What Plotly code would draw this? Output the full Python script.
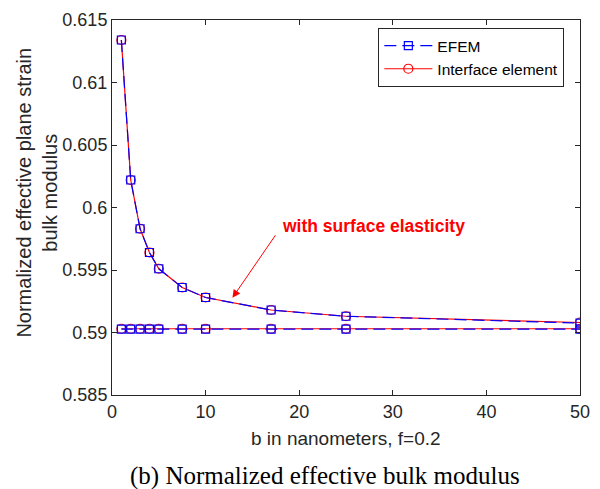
import plotly.graph_objects as go

b_nm = [1, 2, 3, 4, 5, 7.5, 10, 17, 25, 50]
efem_surface = [0.6134, 0.6022, 0.5983, 0.5964, 0.5951, 0.5936, 0.5928, 0.5918, 0.5913, 0.59075]
iface_surface = [0.6134, 0.6022, 0.5983, 0.5964, 0.5951, 0.5936, 0.5928, 0.5918, 0.5913, 0.5908]
efem_bulk = [0.59027] * 10
iface_bulk = [0.5903] * 10

y_ticks = [0.585, 0.59, 0.595, 0.6, 0.605, 0.61, 0.615]
y_ticktext = ["0.585", "0.59", "0.595", "0.6", "0.605", "0.61", "0.615"]
x_ticks = [0, 10, 20, 30, 40, 50]

red = "#ff0000"
blue = "#0000ff"
sans = "Liberation Sans"
axis_color = "#262626"

L, R, T, B = 112, 10, 20, 94
W, H = 600, 489
pw, ph = W - L - R, H - T - B

fig = go.Figure()
for ys in [iface_surface, iface_bulk]:
    fig.add_trace(go.Scatter(
        x=b_nm, y=ys, mode="lines+markers", name="Interface element",
        line=dict(color=red, width=1.2),
        marker=dict(symbol="circle-open", size=9, color=red, line=dict(width=1.2)),
        showlegend=False,
    ))
for i, ys in enumerate([efem_surface, efem_bulk]):
    fig.add_trace(go.Scatter(
        x=b_nm, y=ys, mode="lines+markers", name="EFEM",
        line=dict(color=blue, width=1.2, dash="12px,6px"),
        marker=dict(symbol="square-open", size=8, color=blue, line=dict(width=1.2)),
        showlegend=(i == 0), legendrank=1,
    ))
fig.add_trace(go.Scatter(
    x=[None], y=[None], mode="lines+markers", name="Interface element",
    line=dict(color=red, width=1.2),
    marker=dict(symbol="circle-open", size=9, color=red, line=dict(width=1.2)),
    legendrank=2,
))

fig.update_xaxes(
    range=[0, 50], tickvals=x_ticks, ticks="inside", ticklen=5, tickcolor=axis_color,
    showline=True, linecolor=axis_color, linewidth=1, mirror="ticks",
    showgrid=False, zeroline=False, ticklabeloverflow="allow",
    tickfont=dict(family=sans, size=18, color=axis_color),
)
fig.update_yaxes(
    range=[0.585, 0.615], tickvals=y_ticks, ticktext=y_ticktext, ticks="inside", ticklen=5, tickcolor=axis_color,
    showline=True, linecolor=axis_color, linewidth=1, mirror="ticks",
    showgrid=False, zeroline=False,
    tickfont=dict(family=sans, size=18, color=axis_color),
)

# axis titles
fig.add_annotation(
    x=0.5, y=-(438 - (H - B)) / ph, xref="paper", yref="paper", xanchor="center", yanchor="middle",
    text="b in nanometers, f=0.2", showarrow=False,
    font=dict(family=sans, size=19, color=axis_color),
)
fig.add_annotation(
    x=(35 - L) / pw, y=((H - B) - 193) / ph, xref="paper", yref="paper", xanchor="center", yanchor="middle",
    text="Normalized effective plane strain<br>bulk modulus", showarrow=False, textangle=-90,
    font=dict(family=sans, size=20, color=axis_color),
)

fig.add_annotation(
    x=12.87, y=0.59278, ax=44, ay=-64, axref="pixel", ayref="pixel",
    xref="x", yref="y", text="", showarrow=True,
    arrowhead=2, arrowsize=1.6, arrowwidth=1, arrowcolor=red,
)
fig.add_annotation(
    x=27.9, y=0.59856, xref="x", yref="y", text="<b>with surface elasticity</b>",
    showarrow=False, font=dict(family=sans, size=17.5, color=red),
)
fig.add_annotation(
    x=(330 - L) / pw, y=-(476 - (H - B)) / ph, xref="paper", yref="paper", xanchor="center", yanchor="middle",
    text="(b) Normalized effective bulk modulus", showarrow=False,
    font=dict(family="Liberation Serif", size=25, color="#000000"),
)

fig.update_layout(
    width=W, height=H,
    margin=dict(l=L, r=R, t=T, b=B),
    plot_bgcolor="white", paper_bgcolor="white",
    legend=dict(
        x=(574 - L) / pw, y=((H - B) - 28) / ph, xanchor="right", yanchor="top",
        bgcolor="white", bordercolor=axis_color, borderwidth=1,
        font=dict(family=sans, size=15.5, color="#000000"),
        tracegroupgap=0, itemwidth=48,
    ),
)

fig.write_html("out.html")
